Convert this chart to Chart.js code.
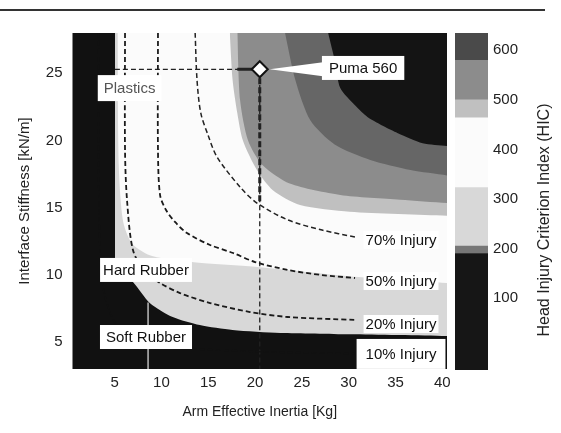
<!DOCTYPE html>
<html>
<head>
<meta charset="utf-8">
<script src="https://cdn.jsdelivr.net/npm/chart.js@4.4.1/dist/chart.umd.min.js"></script>
<style>
  html, body { margin: 0; padding: 0; background: #fff; }
  #wrap { position: relative; width: 561px; height: 433px; overflow: hidden; }
  #main { position: absolute; left: 0; top: 0; }
  #bar { position: absolute; left: 448px; top: 0; }
  #rule { position: absolute; left: 0; top: 9px; width: 545px; height: 2px; background: #333; }
</style>
</head>
<body>
<div id="wrap">
  <canvas id="main" width="561" height="433"></canvas>
  <canvas id="bar" width="113" height="433"></canvas>
  <div id="rule"></div>
</div>
<script>
const FONT = "'Liberation Sans', Arial, Helvetica, sans-serif";
Chart.defaults.font.family = FONT;
Chart.defaults.color = "#222";

// ---------------- DATA ----------------
const inertiaTicks = [5, 10, 15, 20, 25, 30, 35, 40];
const stiffnessTicks = [5, 10, 15, 20, 25];
const hicTicks = [100, 200, 300, 400, 500, 600];

// HIC contour boundaries, points are [inertia kg, stiffness kN/m]
const hic190 = [[5.04,28],[5.04,11.1],[5.4,10.4],[6.96,9.47],[8.78,7.9],[11.2,6.87],[14.1,6.27],[17.6,5.9],[22.7,5.68],[30.1,5.58],[40.5,5.45]];
const hic320 = [[5.3,28],[5.45,18],[5.9,14],[6.9,12.3],[9,11.4],[14,10.9],[20,10.6],[30,9.9],[40.5,9.4]];
const hic465 = [[17.3,28],[17.6,24.5],[18.1,22.05],[18.7,20],[20.2,17.8],[21.9,16.3],[24.8,15.2],[30.1,14.7],[40.5,14.4]];
const hic500 = [[18.1,28],[18.4,23],[19.25,20],[20.75,18.2],[23.7,16.8],[29.1,15.95],[35.5,15.6],[40.5,15.35]];
const hic580 = [[23.2,28],[24.3,24.5],[25.9,21.5],[28.5,19.7],[32.3,18.55],[36.6,17.8],[40.5,17.4]];
const hic610 = [[27.8,28],[28.5,26],[29.1,23.9],[30.7,22.6],[32,21.75],[33.9,21],[35.2,20.56],[37.9,19.8],[40.5,19.6]];

// injury probability iso-lines
const injury10 = [[3.3,28],[3.35,14],[3.8,9],[5,6.5],[7,5.3],[10,4.7],[20,4.3],[30.6,4.15]];
const injury20 = [[6.11,28],[6.11,19.3],[6.32,15.6],[6.96,11.85],[8.25,10.2],[9.85,9.4],[11.98,8.65],[15.19,7.91],[19.46,7.24],[23.5,6.87],[30.7,6.65]];
const injury50 = [[9.63,28],[9.63,19.3],[9.85,15.95],[10.49,14.83],[11.45,13.94],[12.73,13.12],[15.19,12.23],[17.65,11.63],[20,10.96],[23.5,10.37],[27.15,9.99],[30.68,9.77]];
const injury70 = [[13.6,28],[13.8,24.5],[14.2,22.05],[14.98,20.4],[15.94,18.77],[18.4,16.54],[20.2,15.35],[23.5,14.09],[27.15,13.34],[30.68,12.82]];

// Puma 560 operating point and the soft rubber mark
const puma = [20.5, 25.3];
const softRubberMark = [[8.57, 3], [8.57, 7.95]];

// colour bar bands [from, to] in HIC
const cbBands = [[-45,190],[190,205],[205,323],[323,464],[464,500],[500,580],[580,635]];

// ---------------- STYLE ----------------
const bandColors = ["#d8d8d8", "#fbfbfb", "#c0c0c0", "#8c8c8c", "#666666", "#141414"];
const cbColors = ["#161616", "#777777", "#d8d8d8", "#fbfbfb", "#c0c0c0", "#8c8c8c", "#4a4a4a"];

const notes = [
  { text: "Plastics",    x: 6.6,   y: 23.9,  padX: 6, padY: 5, color: "#555" },
  { text: "Hard Rubber", x: 8.35,  y: 10.37, padX: 3, padY: 4 },
  { text: "Soft Rubber", x: 8.35,  y: 5.38,  padX: 6, padY: 4 },
  { text: "Puma 560",    x: 31.54, y: 25.4,  padX: 7, padY: 4, arrow: true },
  { text: "70% Injury",  x: 35.59, y: 12.6,  padX: 2, padY: 1 },
  { text: "50% Injury",  x: 35.59, y: 9.55,  padX: 2, padY: 1 },
  { text: "20% Injury",  x: 35.59, y: 6.35,  padX: 2, padY: 1 },
  { text: "10% Injury",  x: 35.59, y: 4.12,  padX: 9, padY: 7 }
];

const pts = a => a.map(([x, y]) => ({ x, y }));

const bandSets = [hic190, hic320, hic465, hic500, hic580, hic610].map((b, i) => ({
  data: pts(b),
  borderWidth: 0,
  pointRadius: 0,
  tension: 0.25,
  fill: "end",
  backgroundColor: bandColors[i],
  order: 20 - i
}));

const dashed = (d, color, width) => ({
  data: pts(d),
  borderColor: color,
  borderWidth: width,
  borderDash: [5, 3],
  pointRadius: 0,
  tension: 0.3,
  fill: false,
  order: 3
});

const lineSets = [
  dashed(injury10, "#111", 1.6), // lies in the dark band, as in the original
  dashed(injury20, "#1a1a1a", 1.8),
  dashed(injury50, "#1a1a1a", 1.8),
  dashed(injury70, "#222", 1.5),
  dashed([[5.04, puma[1]], puma], "#222", 1.3),
  dashed([puma, [puma[0], 3]], "#222", 1.3),
  { data: pts([[18.1, puma[1]], puma]), borderColor: "#222", borderWidth: 3, pointRadius: 0, fill: false, order: 2 },
  { data: pts([puma, [puma[0], 15.35]]), borderColor: "#222", borderWidth: 3, borderDash: [6, 3], pointRadius: 0, fill: false, order: 2 },
  { data: pts(softRubberMark), borderColor: "#e8e8e8", borderWidth: 1.2, pointRadius: 0, fill: false, order: 2 },
  { data: pts([puma]), showLine: false, pointStyle: "rectRot", pointRadius: 8, pointBackgroundColor: "#fff",
    pointBorderColor: "#111", pointBorderWidth: 2, order: 0 }
];

// ---------------- PLUGINS ----------------
const plotBase = {
  id: "plotBase",
  beforeDatasetsDraw(chart) {
    const { ctx, chartArea: a } = chart;
    ctx.save();
    ctx.fillStyle = "#111";
    ctx.fillRect(a.left, a.top, a.right - a.left, a.bottom - a.top);
    ctx.restore();
  }
};

const notesPlugin = {
  id: "notes",
  afterDatasetsDraw(chart) {
    const { ctx, scales: { x, y } } = chart;
    ctx.save();
    ctx.font = "15px " + FONT;
    ctx.textAlign = "center";
    ctx.textBaseline = "middle";
    notes.forEach(n => {
      const px = x.getPixelForValue(n.x), py = y.getPixelForValue(n.y);
      const w = ctx.measureText(n.text).width + n.padX * 2;
      const h = 16 + n.padY * 2;
      ctx.fillStyle = "#fff";
      ctx.fillRect(px - w / 2, py - h / 2, w, h);
      if (n.arrow) {
        const mx = x.getPixelForValue(puma[0]) + 10, my = y.getPixelForValue(puma[1]);
        const bx = px - w / 2;
        ctx.beginPath();
        ctx.moveTo(mx, my);
        ctx.lineTo(bx + 1, my - 7);
        ctx.lineTo(bx + 1, my + 7);
        ctx.closePath();
        ctx.fill();
      }
      ctx.fillStyle = n.color || "#111";
      ctx.fillText(n.text, px, py + 1);
    });
    ctx.restore();
  }
};

// ---------------- MAIN CHART ----------------
new Chart(document.getElementById("main"), {
  type: "line",
  data: { datasets: [...bandSets, ...lineSets] },
  options: {
    responsive: false,
    animation: false,
    events: [],
    layout: { padding: { left: 0, top: 33, right: 114, bottom: 0 } },
    plugins: { legend: { display: false }, tooltip: { enabled: false } },
    scales: {
      x: {
        type: "linear", min: 0.5, max: 40.5,
        grid: { display: false, drawTicks: false },
        border: { display: false },
        afterBuildTicks: s => { s.ticks = inertiaTicks.map(v => ({ value: v })); },
        ticks: { padding: 5, font: { size: 15 }, color: "#222" },
        title: { display: true, text: "Arm Effective Inertia [Kg]", font: { size: 14 }, color: "#222",
                 padding: { top: 0, bottom: 12.6 } },
        afterFit: s => { s.height = 64; }
      },
      y: {
        type: "linear", min: 3, max: 28,
        grid: { display: false, drawTicks: false },
        border: { display: false },
        afterBuildTicks: s => { s.ticks = stiffnessTicks.map(v => ({ value: v })); },
        ticks: { padding: 10, font: { size: 15 }, color: "#222" },
        title: { display: true, text: "Interface Stiffness [kN/m]", font: { size: 15 }, color: "#222",
                 padding: { top: 16, bottom: 0 } },
        afterFit: s => { s.width = 72.5; }
      }
    }
  },
  plugins: [plotBase, notesPlugin]
});

// ---------------- COLOUR BAR ----------------
const cbTitle = {
  id: "cbTitle",
  afterDraw(chart) {
    const { ctx } = chart;
    ctx.save();
    ctx.translate(97, 220);
    ctx.rotate(-Math.PI / 2);
    ctx.font = "16px " + FONT;
    ctx.fillStyle = "#222";
    ctx.textAlign = "center";
    ctx.textBaseline = "middle";
    ctx.fillText("Head Injury Criterion Index (HIC)", 0, 0);
    ctx.restore();
  }
};

new Chart(document.getElementById("bar"), {
  type: "bar",
  data: {
    labels: [""],
    datasets: cbBands.map((b, i) => ({
      data: [b],
      backgroundColor: cbColors[i],
      barPercentage: 1,
      categoryPercentage: 1,
      grouped: false
    }))
  },
  options: {
    responsive: false,
    animation: false,
    events: [],
    layout: { padding: { left: 7, top: 33, right: 0, bottom: 63 } },
    plugins: { legend: { display: false }, tooltip: { enabled: false } },
    scales: {
      x: { display: false },
      y: {
        position: "right", min: -45, max: 635,
        grid: { display: false, drawTicks: false },
        border: { display: false },
        afterBuildTicks: s => { s.ticks = hicTicks.map(v => ({ value: v })); },
        ticks: { padding: 5, font: { size: 15 }, color: "#222" },
        afterFit: s => { s.width = 73; }
      }
    }
  },
  plugins: [cbTitle]
});
</script>
</body>
</html>
